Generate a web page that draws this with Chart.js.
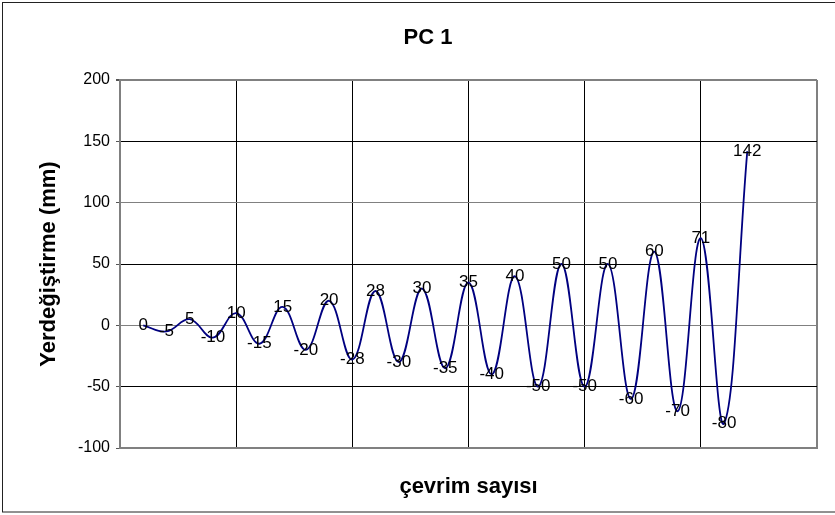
<!DOCTYPE html>
<html>
<head>
<meta charset="utf-8">
<script src="https://cdn.jsdelivr.net/npm/chart.js@4.4.0/dist/chart.umd.min.js"></script>
<style>
  body { margin: 0; background: #fff; }
  canvas { display: block; }
</style>
</head>
<body>
<canvas id="pcChart" width="835" height="515"></canvas>
<script>
// cycle index (x) and displacement (mm)
const cycles = [1, 2, 3, 4, 5, 6, 7, 8, 9, 10, 11, 12, 13, 14, 15, 16, 17, 18, 19, 20, 21, 22, 23, 24, 25, 26, 27];
const displacements = [0, -5, 5, -10, 10, -15, 15, -20, 20, -28, 28, -30, 30, -35, 35, -40, 40, -50, 50, -50, 50, -60, 60, -70, 71, -80, 142];
const yTicks = [-100, -50, 0, 50, 100, 150, 200];
const blackRows = [150, 50, -50];

const FONT = '"Liberation Sans", Arial, sans-serif';
const GRAY = '#808080';

// white background, outer frame and the title
const frame = {
    id: 'frame',
    beforeDraw(chart) {
        const ctx = chart.ctx;
        ctx.save();
        ctx.fillStyle = '#fff';
        ctx.fillRect(0, 0, chart.width, chart.height);
        ctx.restore();
    },
    afterDraw(chart) {
        const ctx = chart.ctx;
        ctx.save();
        ctx.strokeStyle = '#222';
        ctx.lineWidth = 1;
        ctx.strokeRect(2.5, 2.5, 840, 509.5);
        ctx.font = 'bold 22px ' + FONT;
        ctx.fillStyle = '#000';
        ctx.textAlign = 'center';
        ctx.textBaseline = 'middle';
        ctx.fillText('PC 1', 428, 38);
        ctx.restore();
    }
};

// value labels sitting on each point
const pointLabels = {
    id: 'pointLabels',
    afterDatasetsDraw(chart) {
        const ctx = chart.ctx;
        const meta = chart.getDatasetMeta(0);
        ctx.save();
        ctx.font = '17px ' + FONT;
        ctx.fillStyle = '#000';
        ctx.textAlign = 'center';
        ctx.textBaseline = 'middle';
        meta.data.forEach((pt, i) => {
            ctx.fillText(String(displacements[i]), pt.x, pt.y);
        });
        ctx.restore();
    }
};

const ctx = document.getElementById('pcChart').getContext('2d');
new Chart(ctx, {
    type: 'line',
    data: {
        datasets: [{
            data: cycles.map((c, i) => ({ x: c, y: displacements[i] })),
            borderColor: '#000080',
            borderWidth: 1.8,
            pointRadius: 0,
            fill: false,
            tension: 0.4
        }]
    },
    options: {
        responsive: false,
        animation: false,
        layout: { padding: { left: 0, top: 80, right: 18, bottom: 0 } },
        plugins: {
            legend: { display: false },
            title: { display: false },
            tooltip: { enabled: false }
        },
        scales: {
            x: {
                type: 'linear',
                min: 0,
                max: 30,
                ticks: { display: false, stepSize: 5 },
                grid: {
                    drawTicks: false,
                    color: c => (c.tick.value === 0 || c.tick.value === 30) ? GRAY : '#000',
                    lineWidth: c => (c.tick.value === 30) ? 2 : 1
                },
                border: { color: GRAY, width: 2 },
                title: {
                    display: true,
                    text: 'çevrim sayısı',
                    font: { family: FONT, size: 22, weight: 'bold' },
                    color: '#000',
                    padding: { top: 0, bottom: 15 }
                },
                afterFit: s => { s.height = 67; }
            },
            y: {
                min: -100,
                max: 200,
                afterBuildTicks: s => { s.ticks = yTicks.map(v => ({ value: v })); },
                ticks: {
                    font: { family: FONT, size: 16 },
                    color: '#000',
                    padding: 6
                },
                grid: {
                    tickLength: 4,
                    tickColor: '#555',
                    color: c => blackRows.includes(c.tick.value) ? '#000' : GRAY,
                    lineWidth: c => (c.tick.value === 200) ? 2 : 1
                },
                border: { color: GRAY, width: 2 },
                title: {
                    display: true,
                    text: 'Yerdeğiştirme (mm)',
                    font: { family: FONT, size: 22, weight: 'bold' },
                    color: '#000',
                    padding: { top: 36, bottom: 0 }
                },
                afterFit: s => { s.width = 120; }
            }
        }
    },
    plugins: [frame, pointLabels]
});
</script>
</body>
</html>
